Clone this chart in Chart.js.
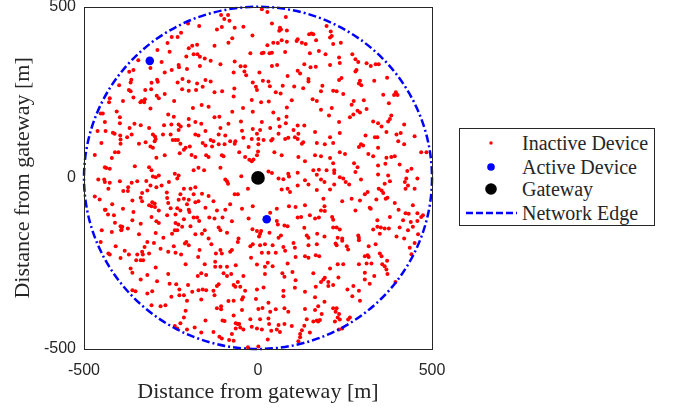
<!DOCTYPE html>
<html>
<head>
<meta charset="utf-8">
<script src="https://cdn.jsdelivr.net/npm/chart.js@4.4.0/dist/chart.umd.min.js"></script>
<style>
  body{margin:0;background:#fff}
  #wrap{position:relative;width:674px;height:408px}
  #legend{position:absolute;left:459px;top:128px;width:194px;height:96px;border:1px solid #262626;background:#fff;
    font-family:"Liberation Serif",serif;font-size:20px;color:#262626}
  .item{position:absolute;left:0;height:24px;display:flex;align-items:center;white-space:nowrap}
  .item svg{margin-left:6px;margin-right:4px}
</style>
</head>
<body>
<div id="wrap">
  <canvas id="chart" width="674" height="408"></canvas>
  <div id="legend"></div>
</div>
<script>
// tick labels on both axes
const tickValues = [-500, 0, 500]
const networkRadius = 500

const gateway = [[0, 0]]
const activeDevices = [[-311, 342], [25, -121]]

// inactive devices [x, y] in metres
const inactiveDevices = [
  [-201,451],[-221,424],[-231,412],[-248,412],[-260,394],[-289,374],[-189,386],[-199,379],[-175,389],[-254,369],
  [-185,361],[-174,361],[-206,355],[-277,339],[-344,344],[-309,321],[-228,330],[-227,323],[-248,315],[-268,308],
  [-204,318],[-370,310],[-358,315],[-290,287],[-288,281],[-306,278],[-364,287],[-366,279],[-217,289],[-199,282],
  [-231,279],[-175,276],[-399,271],[-371,257],[-366,253],[-324,257],[-307,259],[-218,259],[-199,255],[-178,257],
  [-358,235],[-268,245],[-291,240],[-285,233],[-325,230],[-334,225],[-327,221],[-338,221],[-426,233],[-388,225],
  [-428,221],[-241,225],[-309,203],[-187,204],[-406,194],[-452,188],[-446,188],[-397,177],[-258,185],[-242,179],
  [-199,172],
  [11,493],[27,485],[-106,476],[-86,476],[-97,464],[-82,459],[-169,444],[-118,434],[-104,441],[-67,439],
  [-42,442],[40,451],[80,470],[63,439],[61,430],[66,434],[83,431],[154,422],[159,420],[147,420],
  [-16,416],[-74,408],[-85,395],[-125,386],[68,402],[57,394],[44,395],[83,398],[114,405],[111,400],
  [126,395],[137,391],[27,388],[167,402],[-167,354],[-153,349],[-136,342],[-22,364],[11,364],[16,366],
  [33,364],[40,366],[78,368],[149,364],[-67,340],[-108,332],[-167,327],[133,332],[151,323],[166,325],
  [-50,326],[-37,326],[55,330],[40,327],[-70,308],[-39,311],[-34,300],[4,308],[114,313],[121,305],
  [145,289],[145,282],[85,298],[-151,286],[-136,282],[-15,279],[14,284],[30,282],[-159,266],[-68,261],
  [-6,266],[-3,257],[34,268],[71,269],[104,267],[130,262],[-125,250],[-103,253],[51,250],[65,247],
  [-70,238],[-18,228],[9,221],[31,223],[97,227],[157,230],[169,225],[-162,213],[-142,208],[-43,204],
  [-74,193],[-15,193],[44,191],[83,206],[59,172],[82,179],[-125,177],[-111,179],
  [197,444],[209,428],[212,415],[207,410],[216,391],[238,395],[175,371],[194,361],[207,330],[233,352],
  [235,336],[271,361],[280,347],[288,339],[283,315],[280,311],[312,335],[324,327],[338,332],[347,332],
  [371,293],[185,269],[181,253],[216,255],[226,253],[245,245],[233,286],[240,292],[293,284],[290,276],
  [297,271],[334,284],[396,250],[391,242],[401,242],[275,225],[304,227],[360,243],[376,218],[212,204],
  [181,199],[269,214],[286,196],[293,191],[312,201],[274,185],[264,177],[379,172],[383,182],[204,182],
  [-440,163],[-397,160],[-369,146],[-355,158],[-337,154],[-313,146],[-270,154],[-249,156],[-228,156],[-222,150],
  [-199,153],[-180,163],[-461,137],[-438,137],[-417,132],[-412,129],[-396,124],[-395,112],[-395,100],[-376,119],
  [-363,127],[-302,127],[-296,121],[-294,114],[-273,127],[-251,127],[-228,140],[-180,127],[-342,100],[-323,104],
  [-309,92],[-302,88],[-297,107],[-245,111],[-237,111],[-230,111],[-223,100],[-208,88],[-213,82],[-196,92],
  [-450,102],[-411,75],[-401,75],[-420,58],[-469,67],[-292,59],[-268,66],[-225,72],[-191,67],[-180,61],
  [-440,31],[-436,29],[-426,27],[-354,34],[-313,31],[-306,22],[-459,-5],[-442,-5],[-440,-12],[-426,-14],
  [-397,-10],[-363,-14],[-347,-10],[-321,-9],[-302,4],[-294,2],[-285,7],[-256,-12],[-239,12],[-232,-2],
  [-228,7],[-185,22],[-430,-32],[-387,-38],[-374,-38],[-373,-27],[-333,-44],[-318,-37],[-309,-22],[-292,-27],
  [-277,-22],[-262,-43],[-228,-64],[-223,-48],[-213,-32],[-194,-32],[-180,-27],[-469,-54],[-455,-63],[-361,-66],
  [-337,-58],[-333,-68],[-304,-71],[-313,-80],[-306,-83],[-296,-85],[-297,-75],[-261,-59],[-258,-73],[-251,-89],
  [-232,-89],[-213,-61],[-199,-64],[-204,-77],[-185,-48],[-180,-71],[-440,-93],[-438,-93],[-419,-77],[-388,-90],
  [-285,-95],[-223,-95],[-199,-93],[-197,-100],[-431,-107],[-414,-109],[-358,-100],[-306,-114],[-261,-109],[-237,-107],
  [-185,-116],[-175,-116],[-213,-121],[-411,-131],[-395,-141],[-392,-151],[-390,-143],[-393,-153],[-374,-148],[-361,-124],
  [-337,-134],[-292,-127],[-285,-132],[-237,-132],[-229,-136],[-449,-153],[-420,-158],[-342,-165],[-294,-161],[-272,-175],
  [-239,-153],[-232,-153],[-218,-143],[-194,-141],[-247,-163],[-180,-165],
  [-163,158],[-108,146],[-85,158],[-49,165],[-15,143],[11,163],[35,146],[62,150],[80,160],[102,140],
  [114,153],[116,129],[133,153],[-46,138],[6,140],[59,129],[-171,124],[-151,137],[-136,111],[-128,107],
  [-113,127],[-94,124],[-96,98],[-80,107],[-65,107],[-42,117],[-18,114],[-3,129],[1,114],[16,111],
  [38,109],[42,114],[78,114],[87,117],[106,119],[114,114],[126,100],[130,104],[164,134],[169,102],
  [-159,102],[-151,95],[-132,92],[-113,98],[-67,100],[-27,90],[1,98],[-149,66],[-142,61],[-104,66],
  [-99,63],[-54,75],[-37,61],[-25,53],[-18,49],[-13,54],[0,77],[-3,66],[47,75],[68,66],
  [116,61],[135,49],[164,66],[-171,30],[-155,22],[-108,30],[30,19],[40,14],[-48,5],[87,12],
  [89,4],[114,15],[159,22],[169,9],[-94,-5],[-89,-10],[-86,-17],[59,-2],[73,-4],[135,-7],
  [145,-19],[114,-22],[85,-32],[68,-34],[92,-41],[-29,-32],[-161,-46],[-142,-53],[-67,-48],[-58,-48],
  [169,-35],[-171,-68],[-128,-68],[-80,-77],[-151,-87],[-118,-95],[-94,-93],[-46,-90],[-15,-83],[54,-90],
  [89,-83],[108,-85],[135,-80],[-140,-116],[-125,-119],[-102,-116],[-75,-127],[-27,-119],[35,-102],[54,-126],
  [57,-136],[76,-139],[85,-141],[114,-116],[124,-114],[149,-109],[164,-119],[-169,-126],[-113,-145],[-108,-153],
  [-89,-160],[-16,-150],[-3,-155],[6,-163],[9,-155],[33,-160],[59,-175],[66,-168],[133,-146],[140,-168],
  [145,-175],[170,-163],[-161,-163],[-153,-153],[-142,-177],[-56,-177],[3,-171],
  [233,163],[331,165],[345,160],[355,150],[374,165],[420,156],[207,119],[216,102],[192,98],[235,131],
  [309,124],[336,119],[343,119],[369,134],[398,127],[410,131],[450,122],[403,107],[420,98],[296,98],
  [290,90],[302,95],[345,88],[317,70],[331,63],[369,59],[383,61],[393,63],[469,75],[484,75],
  [181,63],[207,58],[216,43],[235,75],[250,70],[276,43],[286,31],[345,36],[366,41],[407,39],
  [429,20],[441,27],[175,24],[197,22],[219,22],[219,14],[280,17],[345,10],[374,7],[426,-2],
  [422,-12],[458,-2],[181,-5],[191,-12],[235,2],[245,-2],[252,-12],[262,-19],[219,-19],[207,-34],
  [296,-5],[364,-17],[379,-10],[347,-32],[355,-37],[360,-44],[431,-22],[424,-32],[450,-32],[315,-41],
  [307,-48],[188,-61],[242,-68],[269,-61],[293,-66],[340,-63],[367,-61],[372,-58],[393,-73],[445,-80],
  [191,-83],[181,-95],[192,-97],[280,-95],[321,-87],[324,-90],[404,-93],[424,-103],[433,-105],[458,-103],
  [474,-109],[175,-116],[213,-114],[216,-122],[343,-124],[379,-114],[417,-124],[439,-129],[458,-126],[469,-114],
  [216,-145],[226,-145],[235,-151],[331,-151],[343,-143],[353,-145],[364,-148],[376,-148],[407,-145],[431,-153],
  [445,-143],[191,-171],[229,-175],[242,-177],[288,-168],[290,-175],[350,-163],[398,-171],[420,-177],[460,-165],
  [-452,-187],[-409,-200],[-383,-213],[-371,-224],[-430,-221],[-426,-224],[-395,-234],[-347,-224],[-333,-216],[-331,-224],
  [-313,-221],[-326,-202],[-318,-187],[-299,-190],[-280,-207],[-258,-216],[-237,-219],[-221,-224],[-242,-200],[-210,-192],
  [-199,-197],[-206,-187],[-172,-231],[-350,-241],[-337,-241],[-330,-241],[-366,-265],[-361,-277],[-294,-262],[-318,-284],
  [-337,-297],[-290,-302],[-258,-281],[-254,-309],[-235,-311],[-226,-326],[-201,-313],[-208,-252],[-173,-287],[-361,-328],
  [-352,-331],[-318,-338],[-304,-331],[-249,-347],[-226,-343],[-213,-343],[-189,-333],[-204,-359],[-306,-372],[-280,-375],
  [-266,-372],[-208,-388],[-213,-408],[-223,-425],[-239,-433],[-232,-440],[-204,-443],[-182,-437],
  [-134,-194],[-58,-187],[-22,-200],[-15,-194],[6,-197],[20,-194],[42,-197],[73,-202],[102,-190],[106,-204],
  [145,-197],[169,-194],[-168,-211],[-121,-221],[-108,-211],[-104,-221],[-80,-216],[-75,-211],[-20,-233],[11,-219],
  [30,-219],[51,-219],[78,-213],[108,-231],[135,-229],[145,-233],[166,-226],[-153,-252],[-123,-245],[-123,-260],
  [-108,-260],[-89,-260],[-64,-255],[-3,-253],[28,-248],[20,-260],[42,-258],[85,-250],[-163,-279],[-149,-284],
  [-99,-279],[-89,-287],[-77,-281],[-42,-287],[20,-281],[70,-279],[76,-289],[99,-275],[108,-299],[159,-279],
  [-113,-311],[-118,-316],[-70,-313],[-65,-318],[-58,-304],[-51,-318],[-171,-328],[-159,-326],[-149,-328],[-128,-330],
  [-125,-343],[-37,-330],[-3,-326],[16,-320],[73,-330],[106,-321],[135,-333],[166,-318],[-163,-355],[-85,-360],
  [-70,-359],[-43,-349],[-46,-355],[-6,-354],[30,-365],[73,-346],[164,-349],[-106,-375],[-118,-381],[-106,-384],
  [-46,-386],[1,-383],[13,-380],[51,-384],[35,-391],[76,-381],[87,-391],[135,-383],[164,-386],[-151,-417],
  [-102,-417],[-96,-418],[-70,-402],[-64,-425],[-58,-427],[-54,-427],[-22,-413],[6,-413],[30,-411],[32,-427],
  [59,-430],[76,-427],[97,-433],[140,-413],[159,-420],[169,-417],[-163,-452],[-128,-450],[-111,-464],[-104,-469],
  [-75,-456],[-64,-440],[-51,-437],[-42,-443],[-18,-435],[-3,-440],[11,-443],[38,-447],[54,-443],[63,-450],
  [121,-456],[126,-445],[133,-432],[149,-452],[-83,-474],[-70,-476],[-29,-495],[1,-493],[28,-472],[116,-477],
  [121,-466],
  [223,-192],[226,-197],[242,-184],[255,-200],[259,-209],[290,-182],[318,-200],[338,-194],[436,-204],[450,-190],
  [441,-223],[176,-229],[229,-252],[245,-252],[290,-252],[307,-229],[315,-226],[318,-231],[312,-250],[326,-250],
  [350,-221],[355,-229],[357,-252],[364,-258],[371,-242],[369,-268],[372,-281],[207,-265],[192,-292],[188,-297],
  [181,-304],[202,-304],[216,-313],[202,-316],[231,-291],[307,-277],[334,-287],[307,-297],[321,-309],[395,-304],
  [257,-326],[274,-316],[290,-330],[271,-346],[293,-359],[173,-375],[191,-362],[216,-381],[226,-381],[223,-391],
  [233,-398],[229,-408],[235,-414],[183,-398],[221,-420],[264,-408],[259,-414],[173,-420],[178,-415],[242,-440],
  [233,-443]
]

const labels = ['Inactive Device', 'Active Device', 'Gateway', 'Network Edge']
const RED = '#ff0000', BLUE = '#0000ff', BLACK = '#000000', AXIS = '#262626'
const edgeDash = [8, 3, 2, 3]

const toXY = arr => arr.map(p => ({x: p[0], y: p[1]}))

// dash-dot circle for the network edge, sized through the scales
const edgePlugin = {
  id: 'edge',
  afterDatasetsDraw(chart){
    const {ctx, scales:{x, y}} = chart
    const cx = x.getPixelForValue(0), cy = y.getPixelForValue(0)
    const rx = x.getPixelForValue(networkRadius) - cx
    const ry = cy - y.getPixelForValue(networkRadius)
    ctx.save()
    ctx.strokeStyle = BLUE
    ctx.lineWidth = 2.5
    ctx.setLineDash(edgeDash)
    ctx.beginPath()
    ctx.ellipse(cx, cy, rx, ry, 0, 0, Math.PI*2)
    ctx.stroke()
    ctx.restore()
  }
}

// matlab style box round the axes
const boxPlugin = {
  id: 'box',
  afterDraw(chart){
    const {ctx, chartArea:a} = chart
    ctx.save()
    ctx.strokeStyle = AXIS
    ctx.lineWidth = 1
    ctx.strokeRect(Math.round(a.left)+0.5, Math.round(a.top)+0.5, Math.round(a.right-a.left), Math.round(a.bottom-a.top))
    ctx.restore()
  }
}

const tickFont = {family:'"Liberation Sans", Arial, sans-serif', size:16}
const titleFont = {family:'"Liberation Serif", serif', size:22}

function axis(extra){
  return Object.assign({
    type:'linear', min:-500, max:500,
    afterBuildTicks: s => { s.ticks = tickValues.map(v => ({value:v})) },
    grid:{display:false, drawTicks:false},
    border:{display:false},
  }, extra)
}

new Chart(document.getElementById('chart'), {
  type:'scatter',
  data:{datasets:[
    {label:labels[0], data:toXY(inactiveDevices), backgroundColor:RED, borderWidth:0, pointRadius:2, pointHoverRadius:2},
    {label:labels[1], data:toXY(activeDevices), backgroundColor:BLUE, borderWidth:0, pointRadius:4.3, pointHoverRadius:4.3},
    {label:labels[2], data:toXY(gateway), backgroundColor:BLACK, borderWidth:0, pointRadius:6.8, pointHoverRadius:6.8}
  ]},
  options:{
    responsive:false, animation:false, devicePixelRatio:1,
    layout:{padding:{top:6, right:242, left:0, bottom:0}},
    plugins:{legend:{display:false}, tooltip:{enabled:false}},
    events:[],
    scales:{
      x: axis({
        afterFit: s => { s.height = 59; s.paddingLeft = 0; s.paddingRight = 0 },
        ticks:{font:tickFont, color:AXIS, padding:12, maxRotation:0, autoSkip:false},
        title:{display:true, text:'Distance from gateway [m]', font:titleFont, color:AXIS, padding:{top:0, bottom:3}}
      }),
      y: axis({
        afterFit: s => { s.width = 84; s.paddingTop = 0; s.paddingBottom = 0 },
        ticks:{font:tickFont, color:AXIS, padding:8, autoSkip:false},
        title:{display:true, text:'Distance from gateway [m]', font:titleFont, color:AXIS, padding:{top:10, bottom:0}}
      })
    }
  },
  plugins:[edgePlugin, boxPlugin]
})

// legend, same look as the figure
const legendSymbols = [
  `<circle cx="25" cy="12" r="1.7" fill="${RED}"/>`,
  `<circle cx="25" cy="12" r="3.8" fill="${BLUE}"/>`,
  `<circle cx="25" cy="12" r="5.8" fill="${BLACK}"/>`,
  `<line x1="0" y1="12" x2="51" y2="12" stroke="${BLUE}" stroke-width="2.5" stroke-dasharray="7 3"/>`
]
const legendTops = [2, 26, 48, 72]
document.getElementById('legend').innerHTML = labels.map((l, i) =>
  `<div class="item" style="top:${legendTops[i]}px"><svg width="52" height="24">${legendSymbols[i]}</svg><span>${l}</span></div>`
).join('')
</script>
</body>
</html>
